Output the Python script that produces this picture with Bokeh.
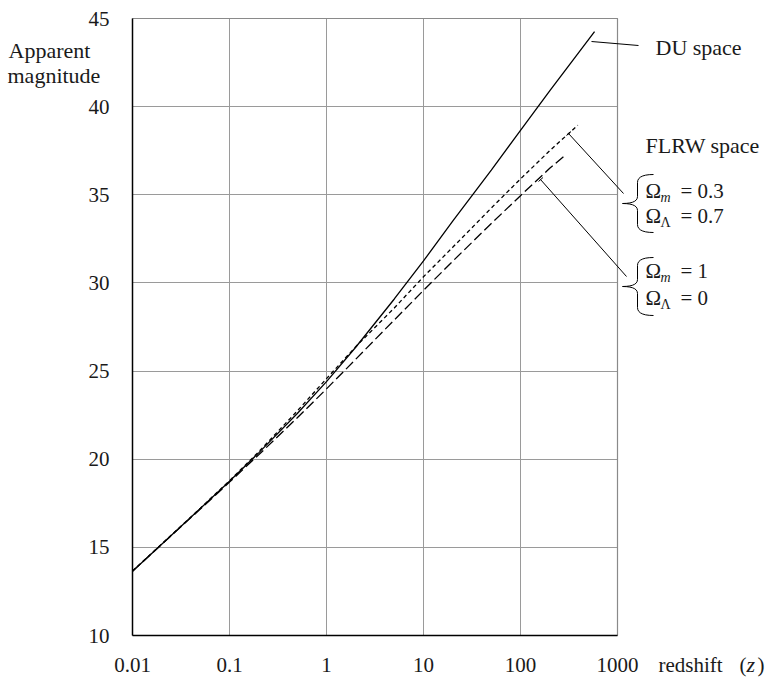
import numpy as np
from bokeh.plotting import figure
from bokeh.models import Label, Arrow, FixedTicker
from bokeh.embed import file_html
from bokeh.resources import INLINE

# ---------------- data ----------------
x_ticks = [0.01, 0.1, 1, 10, 100, 1000]
x_tick_labels = ["0.01", "0.1", "1", "10", "100", "1000"]
y_ticks = [10, 15, 20, 25, 30, 35, 40, 45]

# DU space (solid)
z_du = [0.01, 0.02, 0.05, 0.1, 0.2, 0.5, 1, 2, 5, 10, 20, 50, 100, 200, 580]
m_du = [13.65, 15.18, 17.20, 18.75, 20.36, 22.59, 24.40, 26.35, 29.09, 31.25,
        33.50, 36.40, 38.65, 40.90, 44.25]

# FLRW, Omega_m = 0.3, Omega_L = 0.7 (dotted)
z_lcdm = [0.01, 0.02, 0.05, 0.1, 0.2, 0.5, 1, 2, 5, 10, 20, 50, 100, 200, 390]
m_lcdm = [13.66, 15.19, 17.22, 18.78, 20.42, 22.74, 24.57, 26.38, 28.58, 30.35,
          32.02, 34.25, 35.90, 37.50, 38.95]

# FLRW, Omega_m = 1, Omega_L = 0 (dashed)
z_eds = [0.01, 0.02, 0.05, 0.1, 0.2, 0.5, 1, 2, 5, 10, 20, 50, 100, 200, 280]
m_eds = [13.65, 15.17, 17.17, 18.70, 20.25, 22.35, 23.99, 25.67, 27.90, 29.58,
         31.23, 33.37, 34.95, 36.50, 37.18]

# ---------------- layout ----------------
W, H = 765, 681
BL, BR, BT, BB = 132, 617, 18, 635   # chart box edges in canvas px
PX_DEC = (BR - BL) / 5.0             # px per decade
PX_UNIT = (BB - BT) / 35.0           # px per magnitude
SERIF = "Liberation Serif"


def dx(px):
    return 10 ** (np.log10(x_ticks[0]) + (px - BL) / PX_DEC)


def dy(py):
    return y_ticks[-1] - (py - BT) / PX_UNIT


p = figure(width=W, height=H, x_axis_type="log",
           x_range=(dx(0), dx(W)), y_range=(dy(H), dy(0)),
           output_backend="svg", toolbar_location=None,
           min_border_left=0, min_border_right=0, min_border_top=0, min_border_bottom=0)
p.background_fill_color = "white"
p.border_fill_color = "white"
p.outline_line_color = None

xt = FixedTicker(ticks=x_ticks)
yt = FixedTicker(ticks=y_ticks)
p.xaxis.ticker = xt
p.yaxis.ticker = yt
p.xgrid.ticker = xt
p.ygrid.ticker = yt
p.xaxis.major_label_overrides = {t: l for t, l in zip(x_ticks, x_tick_labels)}
p.xaxis.fixed_location = y_ticks[0]
p.yaxis.fixed_location = x_ticks[0]
p.xaxis.bounds = (x_ticks[0], x_ticks[-1])
p.yaxis.bounds = (y_ticks[0], y_ticks[-1])

for ax in (p.xaxis, p.yaxis):
    ax.axis_line_color = "black"
    ax.axis_line_width = 1.5
    ax.major_tick_line_color = None
    ax.minor_tick_line_color = None
    ax.major_label_text_font = SERIF
    ax.major_label_text_font_size = "21px"
    ax.major_label_text_color = "#1a1a1a"
p.xaxis.major_label_standoff = 16
p.yaxis.major_label_standoff = 17

grid_ok = True
try:
    p.xgrid.cross_bounds = (y_ticks[0], y_ticks[-1])
    p.ygrid.cross_bounds = (x_ticks[0], x_ticks[-1])
except Exception:
    grid_ok = False

GRID = "#9a9a9a"
if grid_ok:
    for g in (p.xgrid, p.ygrid):
        g.grid_line_color = GRID
        g.grid_line_width = 1
else:
    p.xgrid.visible = False
    p.ygrid.visible = False
    p.segment(x0=x_ticks, y0=[y_ticks[0]] * len(x_ticks), x1=x_ticks,
              y1=[y_ticks[-1]] * len(x_ticks), line_color=GRID, line_width=1)
    p.segment(x0=[x_ticks[0]] * len(y_ticks), y0=y_ticks, x1=[x_ticks[-1]] * len(y_ticks),
              y1=y_ticks, line_color=GRID, line_width=1)

# box outline (top & right edges, gray)
p.line([x_ticks[0], x_ticks[-1], x_ticks[-1]], [y_ticks[-1], y_ticks[-1], y_ticks[0]],
       line_color="#8a8a8a", line_width=1.2)

# ---------------- curves ----------------
p.line(z_du, m_du, line_color="black", line_width=1.3)
p.line(z_lcdm, m_lcdm, line_color="black", line_width=1.3, line_dash="4 3")
p.line(z_eds, m_eds, line_color="black", line_width=1.3, line_dash="10 4")


# ---------------- annotations ----------------
def lab(text, px, py, size="22px", style="normal", align="left"):
    p.add_layout(Label(x=dx(px), y=dy(py), text=text, text_font=SERIF,
                       text_font_size=size, text_font_style=style,
                       text_align=align, text_baseline="alphabetic",
                       text_color="#1a1a1a"))


def seg(x0, y0, x1, y1, w=1.0):
    p.add_layout(Arrow(x_start=dx(x0), y_start=dy(y0), x_end=dx(x1), y_end=dy(y1),
                       start=None, end=None, line_color="black", line_width=w))


def quad(a, c, b, n=8):
    t = np.linspace(0, 1, n)
    return [((1 - s) ** 2 * a[0] + 2 * (1 - s) * s * c[0] + s ** 2 * b[0],
             (1 - s) ** 2 * a[1] + 2 * (1 - s) * s * c[1] + s ** 2 * b[1]) for s in t]


def brace(y0, yt_, y1, xtip=622, xs=637, xe=653):
    pts = []
    pts += quad((xe, y0), (xs, y0), (xs, y0 + 8))
    pts += quad((xs, yt_ - 7), (xs, yt_), (xtip, yt_))
    pts += quad((xtip, yt_), (xs, yt_), (xs, yt_ + 7))
    pts += quad((xs, y1 - 8), (xs, y1), (xe, y1))
    p.line([dx(a) for a, _ in pts], [dy(b) for _, b in pts], line_color="black", line_width=1)


# axis titles
lab("Apparent", 8, 50)
lab("magnitude", 7, 75)
lab("redshift", 658, 664, size="21px")
lab("(", 739, 664, size="21px")
lab("z", 746, 664, size="22px", style="italic")
lab(")", 757, 664, size="21px")

# DU label + leader
lab("DU space", 655, 47)
seg(591, 41, 638, 45)

# FLRW labels
lab("FLRW space", 645, 145)

# dotted leader (with small end tick)
seg(568, 133, 623, 193)
seg(566, 135, 570.5, 131)
# dashed leader (with small end tick)
seg(540, 179, 626, 276)
seg(538, 181, 542.5, 177)

brace(174, 203, 232)
brace(257, 286, 315)

for (sub, val, base) in [("m", "= 0.3", 190), ("Λ", "= 0.7", 215),
                         ("m", "= 1", 270), ("Λ", "= 0", 297)]:
    lab("Ω", 645, base, size="21px")
    lab(sub, 660, base + 7, size="14px", style="italic" if sub == "m" else "normal")
    lab(val, 680, base, size="21px")

open("out.html", "w").write(file_html(p, INLINE))
